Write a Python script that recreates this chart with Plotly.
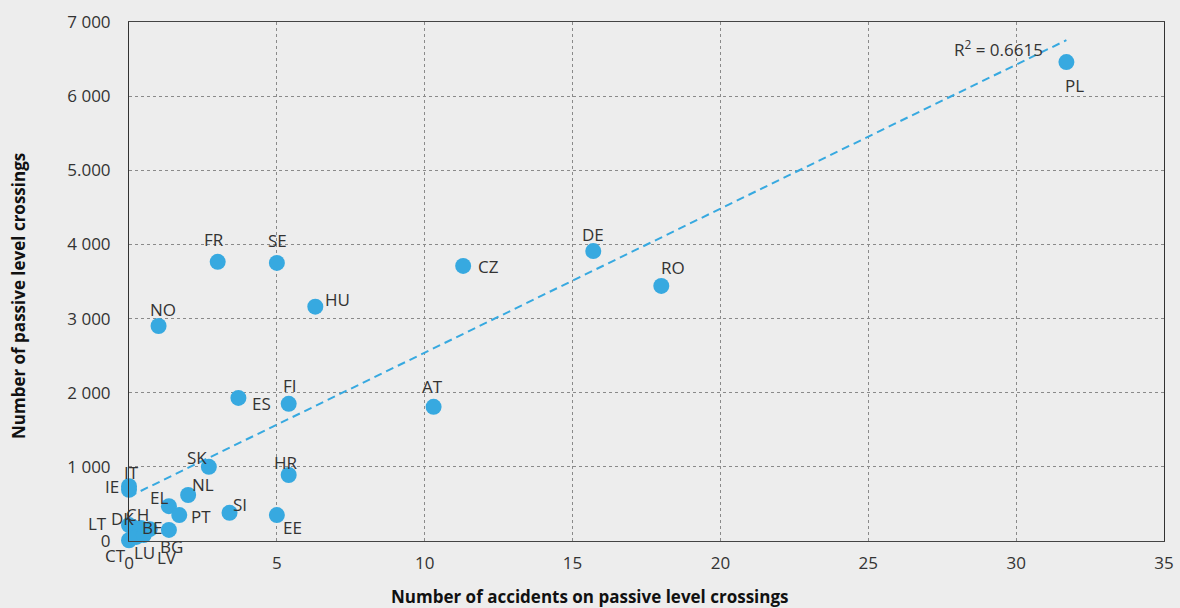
import numpy as np
import plotly.graph_objects as go

countries = ["PL", "DE", "RO", "CZ", "AT", "HU", "SE", "FR", "NO", "ES", "FI", "HR", "EE", "SI",
             "SK", "NL", "EL", "PT", "BG", "IE", "IT", "LT", "DK", "CH", "BE", "CT", "LU", "LV"]
accidents = [31.7, 15.7, 18.0, 11.3, 10.3, 6.3, 5.0, 3.0, 1.0, 3.7, 5.4, 5.4, 5.0, 3.4,
             2.7, 2.0, 1.35, 1.7, 1.35, 0.0, 0.0, 0.0, 0.12, 0.4, 0.7, 0.0, 0.25, 0.5]
crossings = [6460, 3910, 3440, 3710, 1810, 3160, 3750, 3765, 2900, 1930, 1850, 890, 350, 380,
             1000, 620, 470, 350, 150, 690, 740, 215, 190, 175, 160, 10, 55, 80]
r2_text = "R<sup>2</sup> = 0.6615"
x_title = "Number of accidents on passive level crossings"
y_title = "Number of passive level crossings"

x_ticks = [0, 5, 10, 15, 20, 25, 30, 35]
y_ticks = [0, 1000, 2000, 3000, 4000, 5000, 6000, 7000]
y_ticktext = ["0", "1 000", "2 000", "3 000", "4 000", "5.000", "6 000", "7 000"]

# label pixel offsets (dx right, dy down)
label_offsets = {
    "PL": (8, 23), "DE": (0, -17), "RO": (12, -18), "CZ": (25, 1), "AT": (-1, -20),
    "HU": (22, -7), "SE": (1, -22), "FR": (-4, -22), "NO": (4, -16), "ES": (23, 6),
    "FI": (1, -18), "HR": (-3, -13), "EE": (16, 12), "SI": (10, -8), "SK": (-12, -9),
    "NL": (15, -11), "EL": (-10, -9), "PT": (22, 1), "BG": (3, 17), "IE": (-17, -3),
    "IT": (2, -14), "LT": (-32, -2), "DK": (-10, -8), "CH": (-3, -14), "BE": (2, -2),
    "CT": (-14, 15), "LU": (8, 16), "LV": (23, 22),
}

FONT = "Open Sans"
BLUE = "#37a9e0"
TXT = "#333333"
FS = 17

x = np.array(accidents)
y = np.array(crossings)
slope, intercept = np.polyfit(x, y, 1)
tx = np.array([x.min(), x.max()])
ty = slope * tx + intercept

fig = go.Figure()
fig.add_trace(go.Scatter(x=tx, y=ty, mode="lines",
                         line=dict(color=BLUE, width=2, dash="8px,5px"),
                         hoverinfo="skip", showlegend=False))
fig.add_trace(go.Scatter(x=accidents, y=crossings, mode="markers", cliponaxis=False,
                         marker=dict(color=BLUE, size=16, line=dict(width=0)),
                         text=countries, showlegend=False))

for c, xv, yv in zip(countries, accidents, crossings):
    dx, dy = label_offsets[c]
    fig.add_annotation(x=xv, y=yv, text=c, showarrow=False, xshift=dx, yshift=-dy,
                       font=dict(family=FONT, size=FS, color=TXT))

fig.add_annotation(x=tx[1], y=ty[1], text=r2_text, showarrow=False, xshift=-68, yshift=-8,
                   font=dict(family=FONT, size=FS, color=TXT))

# axis titles (centred as in the reference)
fig.add_annotation(text=f"<b>{x_title}</b>", xref="paper", yref="paper", x=0.4454, y=0,
                   xanchor="center", yanchor="middle", yshift=-55, showarrow=False,
                   font=dict(family=FONT, size=FS, color="#111111"))
fig.add_annotation(text=f"<b>{y_title}</b>", xref="paper", yref="paper", x=0, y=0.472,
                   xanchor="center", yanchor="middle", xshift=-111, textangle=-90,
                   showarrow=False, font=dict(family=FONT, size=FS, color="#111111"))

fig.update_layout(
    width=1180, height=608,
    paper_bgcolor="#ededed", plot_bgcolor="#ededed",
    margin=dict(l=129, r=16, t=22, b=67, autoexpand=False),
    font=dict(family=FONT, size=FS, color=TXT),
    xaxis=dict(range=[0, 35], tickvals=x_ticks, ticktext=[str(t) for t in x_ticks],
               automargin=False,
               showgrid=True, gridcolor="#8a8a8a", griddash="dot", gridwidth=1,
               zeroline=False, showline=True, linecolor="#444444", linewidth=1.3, mirror=True,
               ticks="", ticklabelstandoff=6, tickfont=dict(family=FONT, size=FS, color=TXT)),
    yaxis=dict(range=[0, 7000], tickvals=y_ticks, ticktext=y_ticktext,
               automargin=False,
               showgrid=True, gridcolor="#8a8a8a", griddash="dot", gridwidth=1,
               zeroline=False, showline=True, linecolor="#333333", linewidth=1, mirror=True,
               ticks="", ticklabelstandoff=14, tickfont=dict(family=FONT, size=FS, color=TXT)),
)

fig.write_html("out.html", config={"displayModeBar": False},
               post_script="document.body.style.margin='0';document.body.style.background='#ededed';")
